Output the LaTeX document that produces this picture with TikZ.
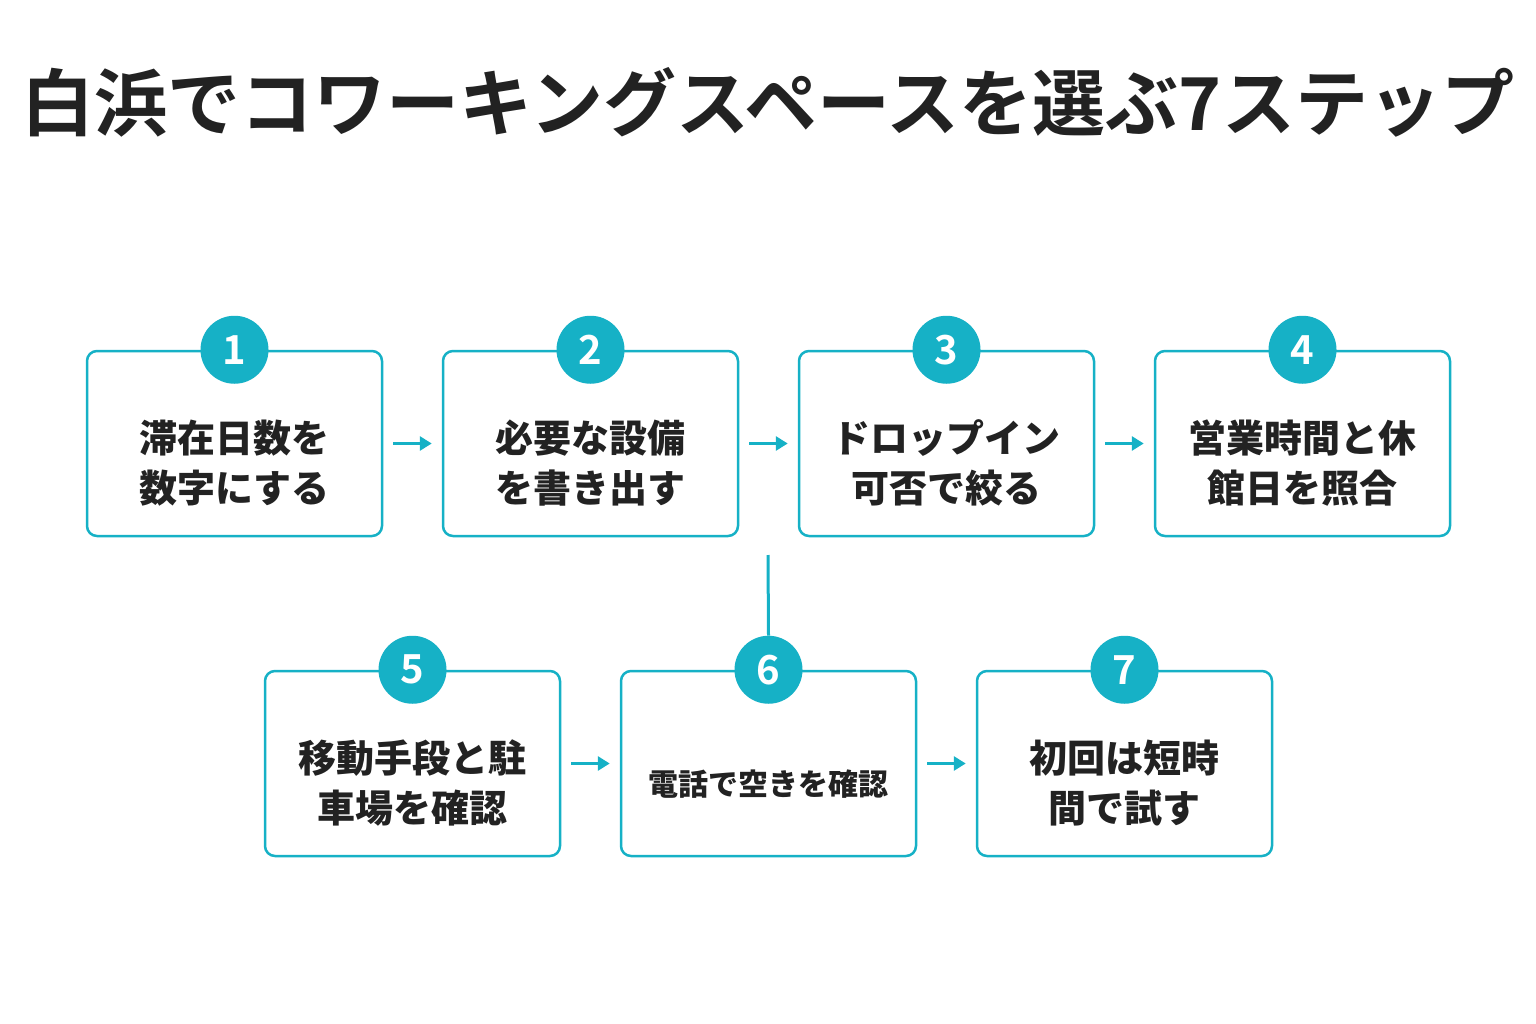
\documentclass[tikz,border=0pt]{standalone}
\usepackage{fontspec}
\newfontfamily\cjk{Noto Sans CJK JP}
\newfontfamily\cjkb{Noto Sans CJK JP Bold}
\definecolor{teal1}{HTML}{16B1C6}
\definecolor{ink}{HTML}{222222}
\usetikzlibrary{arrows.meta}
\newcommand{\bxt}[1]{\raisebox{-12pt}[\dimexpr\height+12pt][\dimexpr\depth-12pt]{\begin{tabular}{@{}c@{}}#1\end{tabular}}}
\begin{document}
\begin{tikzpicture}[x=1pt,y=-1pt,
 box/.style={draw=teal1,line width=2.5pt,rounded corners=10pt,minimum width=295pt,minimum height=185pt,fill=white,align=center,text=ink,font=\cjk\fontsize{38}{50}\selectfont\bfseries},
 num/.style={circle,fill=teal1,minimum size=68pt,inner sep=0pt,text=white,font=\cjkb\fontsize{40}{40}\selectfont},
 arr/.style={draw=teal1,line width=3pt,-{Triangle[length=12pt,width=14pt]}}]
\useasboundingbox (0,0) rectangle (1536,1024);
\node[font=\cjkb\fontsize{73}{73}\selectfont,text=ink] (title) at (768,102) {白浜でコワーキングスペースを選ぶ7ステップ};
\node[box] (b1) at (234.5,443.5) {\bxt{滞在日数を\\数字にする}};
\node[box] (b2) at (590.5,443.5) {\bxt{必要な設備\\を書き出す}};
\node[box] (b3) at (946.5,443.5) {\bxt{ドロップイン\\可否で絞る}};
\node[box] (b4) at (1302.5,443.5) {\bxt{営業時間と休\\館日を照合}};
\node[box] (b5) at (412.5,763.5) {\bxt{移動手段と駐\\車場を確認}};
\node[box,font=\cjk\fontsize{30}{40}\selectfont\bfseries] (b6) at (768.5,763.5) {\bxt{電話で空きを確認}};
\node[box] (b7) at (1124.5,763.5) {\bxt{初回は短時\\間で試す}};
\foreach \i in {1,...,7}{\node[num] (n\i) at (b\i.north) {\i};}
\coordinate (v) at (768,555);
\draw[teal1,line width=3pt] (v) -- (n6.north);
\draw[arr] ([xshift=10pt]b1.east) -- ([xshift=-10pt]b2.west);
\draw[arr] ([xshift=10pt]b2.east) -- ([xshift=-10pt]b3.west);
\draw[arr] ([xshift=10pt]b3.east) -- ([xshift=-10pt]b4.west);
\draw[arr] ([xshift=10pt]b5.east) -- ([xshift=-10pt]b6.west);
\draw[arr] ([xshift=10pt]b6.east) -- ([xshift=-10pt]b7.west);
\end{tikzpicture}
\end{document}
